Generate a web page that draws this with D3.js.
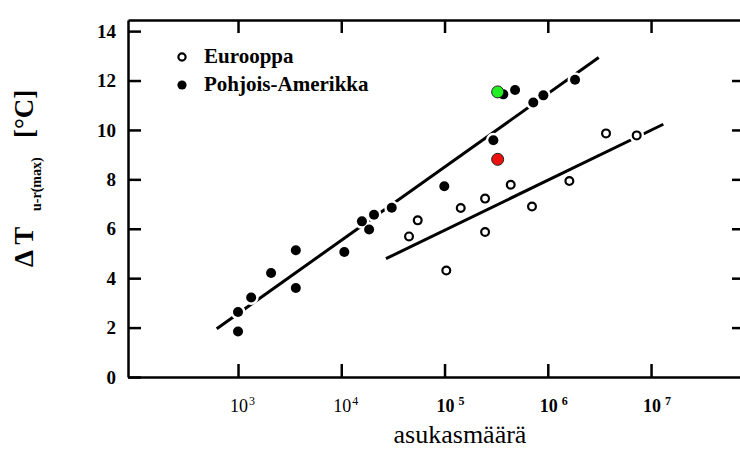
<!DOCTYPE html>
<html>
<head>
<meta charset="utf-8">
<script src="https://cdn.jsdelivr.net/npm/d3@7"></script>
<style>
  body { margin: 0; background: #fff; }
  svg text { font-family: "Liberation Serif", "Times New Roman", serif; }
</style>
</head>
<body>
<div id="chart"></div>
<script>
// population (x) and urban-rural max temperature difference (y)
const naPop = [1000, 1000, 1340, 2090, 3630, 3630, 10700, 15850, 18600, 20750, 30800,
  99500, 297000, 371000, 482000, 724000, 906000, 1836000];
const naDT = [1.84, 2.63, 3.22, 4.21, 5.13, 3.60, 5.06, 6.30, 5.97, 6.57, 6.85,
  7.72, 9.58, 11.44, 11.62, 11.11, 11.40, 12.03];

const euPop = [45300, 55000, 104000, 143500, 247000, 247000, 437500, 703000, 1618000, 3664000, 7261000];
const euDT = [5.69, 6.34, 4.31, 6.84, 7.22, 5.87, 7.78, 6.90, 7.93, 9.86, 9.78];

// fitted lines, end points
const naFitPop = [622, 3112000];
const naFitDT = [1.95, 12.93];
const euFitPop = [27100, 13150000];
const euFitDT = [4.79, 10.23];

// the two coloured markers
const markPop = [327000, 327000];
const markDT = [11.54, 8.81];
const markColor = ["#22ee22", "#ee1111"];

const xTicks = [1e3, 1e4, 1e5, 1e6, 1e7];
const yTicks = [0, 2, 4, 6, 8, 10, 12, 14];
const legendNames = ["Eurooppa", "Pohjois-Amerikka"];

const width = 740, height = 450;
const mLeft = 128, mRight = 742, mTop = 20, mBottom = 377;

const svg = d3.select("#chart").append("svg")
  .attr("width", width)
  .attr("height", height);

const x = d3.scaleLog().domain([86, 7.6e7]).range([mLeft, mRight]);
const y = d3.scaleLinear().domain([0, 14.45]).range([mBottom, mTop]);

// axes (box with inward ticks)
function styleAxis(g) {
  g.selectAll("path.domain").attr("stroke", "#000").attr("stroke-width", 2.5);
  g.selectAll(".tick line").attr("stroke", "#000").attr("stroke-width", 2.5);
}

const yAxis = svg.append("g")
  .attr("transform", `translate(${mLeft},0)`)
  .call(d3.axisLeft(y).tickValues(yTicks).tickSize(-13).tickSizeOuter(0).tickPadding(12))
  .call(styleAxis);
yAxis.selectAll("text")
  .attr("font-size", 19)
  .attr("font-weight", "bold")
  .attr("fill", "#000")
  .style("font-family", "'Liberation Serif', serif");

svg.append("g")
  .attr("transform", `translate(${mRight},0)`)
  .call(d3.axisRight(y).tickValues(yTicks.slice(1, -1)).tickSize(-10).tickSizeOuter(0).tickFormat(""))
  .call(styleAxis);

svg.append("g")
  .attr("transform", `translate(0,${mBottom})`)
  .call(d3.axisBottom(x).tickValues(xTicks).tickSize(-13).tickSizeOuter(0).tickFormat(""))
  .call(styleAxis);

svg.append("g")
  .attr("transform", `translate(0,${mTop})`)
  .call(d3.axisTop(x).tickValues(xTicks).tickSize(-13).tickSizeOuter(0).tickFormat(""))
  .call(styleAxis);

// x tick labels as 10 with superscript
const xl = svg.append("g").selectAll("text")
  .data(xTicks)
  .enter().append("text")
  .attr("x", d => x(d) - 8)
  .attr("y", 412)
  .attr("font-size", 18)
  .attr("font-weight", d => d >= 1e5 ? "bold" : "normal")
  .text("10");
xl.append("tspan")
  .attr("dx", d => d >= 1e5 ? 4 : 1)
  .attr("dy", -7)
  .attr("font-size", 12)
  .text(d => Math.round(Math.log10(d)));

// axis titles
svg.append("text")
  .attr("x", 460)
  .attr("y", 443)
  .attr("text-anchor", "middle")
  .attr("font-size", 26)
  .text("asukasmäärä");

const yt = svg.append("text")
  .attr("transform", "translate(33,267) rotate(-90)")
  .attr("font-weight", "bold")
  .attr("font-size", 27);
yt.append("tspan").attr("x", 0).text("Δ T");
yt.append("tspan").attr("x", 56).attr("dy", 8).attr("font-size", 14).text("u-r(max)");
yt.append("tspan").attr("x", 129).attr("dy", -8).text("[°C]");

// fitted lines
const line = d3.line().x(d => x(d[0])).y(d => y(d[1]));
[[naFitPop, naFitDT], [euFitPop, euFitDT]].forEach(f => {
  svg.append("path")
    .datum(d3.zip(f[0], f[1]))
    .attr("d", line)
    .attr("fill", "none")
    .attr("stroke", "#000")
    .attr("stroke-width", 3);
});

const naData = d3.zip(naPop, naDT);
const euData = d3.zip(euPop, euDT);
const markData = d3.zip(markPop, markDT, markColor);

// white halos that break the lines around markers
svg.append("g").selectAll("circle")
  .data(naData.concat(euData))
  .enter().append("circle")
  .attr("cx", d => x(d[0]))
  .attr("cy", d => y(d[1]))
  .attr("r", 7.5)
  .attr("fill", "#fff");

svg.append("g").selectAll("circle")
  .data(euData)
  .enter().append("circle")
  .attr("cx", d => x(d[0]))
  .attr("cy", d => y(d[1]))
  .attr("r", 3.9)
  .attr("fill", "#fff")
  .attr("stroke", "#000")
  .attr("stroke-width", 2.2);

svg.append("g").selectAll("circle")
  .data(naData)
  .enter().append("circle")
  .attr("cx", d => x(d[0]))
  .attr("cy", d => y(d[1]))
  .attr("r", 5)
  .attr("fill", "#000");

svg.append("g").selectAll("circle")
  .data(markData)
  .enter().append("circle")
  .attr("cx", d => x(d[0]))
  .attr("cy", d => y(d[1]))
  .attr("r", 6)
  .attr("fill", d => d[2])
  .attr("stroke", "#222")
  .attr("stroke-width", 1);

// legend
const legend = svg.append("g").selectAll("g")
  .data(legendNames)
  .enter().append("g")
  .attr("transform", (d, i) => `translate(182,${57 + i * 28})`);

legend.append("circle")
  .attr("r", (d, i) => i ? 4.6 : 3.6)
  .attr("fill", (d, i) => i ? "#000" : "#fff")
  .attr("stroke", "#000")
  .attr("stroke-width", (d, i) => i ? 0 : 2.2);

legend.append("text")
  .attr("x", 22)
  .attr("y", 6)
  .attr("font-size", 21)
  .attr("font-weight", "bold")
  .text(d => d);
</script>
</body>
</html>
